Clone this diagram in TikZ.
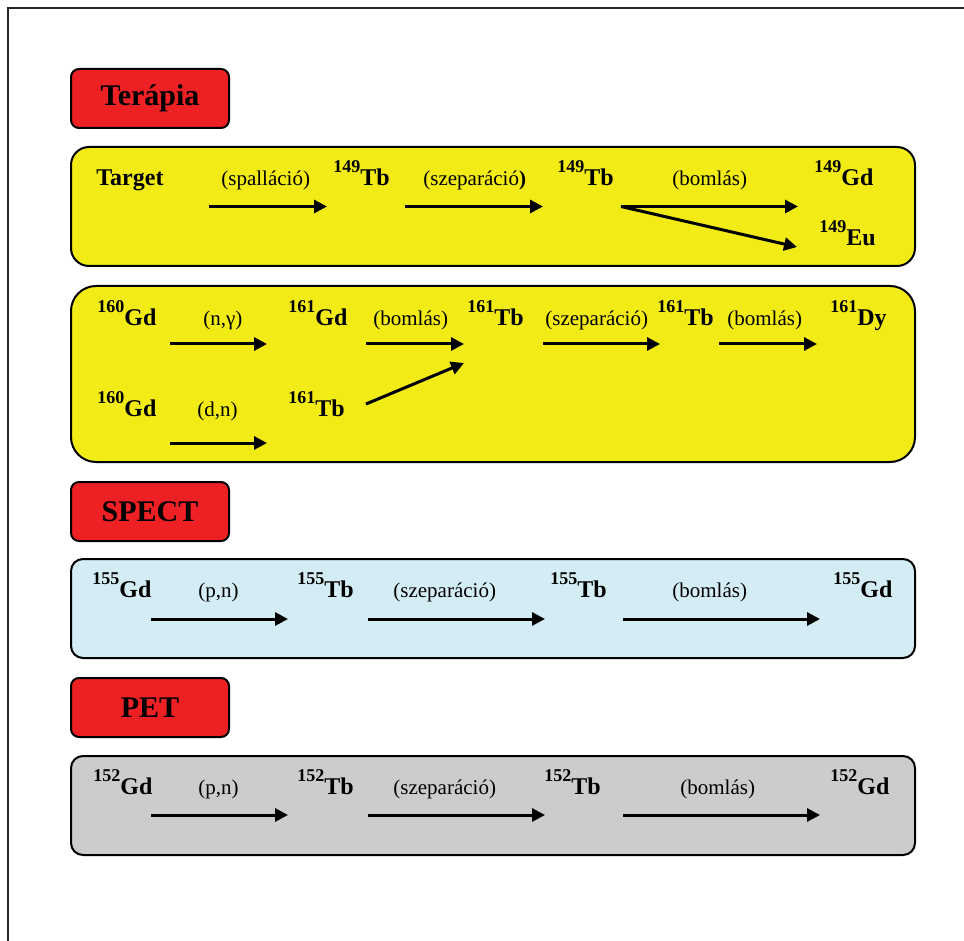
\documentclass[tikz,border=0pt]{standalone}
\usepackage{fontspec}
\setmainfont{Liberation Serif}
\usetikzlibrary{arrows.meta}
\definecolor{hdrred}{RGB}{237,32,36}
\definecolor{panelyellow}{RGB}{242,235,22}
\definecolor{panelblue}{RGB}{212,236,243}
\definecolor{panelgray}{RGB}{204,204,204}
\newcommand{\iso}[2]{\textbf{\raisebox{6.5pt}{\fontsize{9}{9}\selectfont #1}#2}}

\tikzset{
  hdr/.style={draw, line width=1pt, rounded corners=4pt, fill=hdrred,
    minimum width=79pt, minimum height=29.5pt, inner sep=0pt,
    font=\fontsize{15}{15}\selectfont\bfseries},
  panel/.style={draw, line width=1pt, minimum width=422pt, inner sep=0pt},
  nucl/.style={anchor=base west, inner sep=0pt, font=\fontsize{12}{12}\selectfont\bfseries},
  proc/.style={anchor=base west, inner sep=0pt, font=\fontsize{10.5}{10.5}\selectfont},
  reac/.style={line width=1.5pt, -{Triangle[length=6.5pt,width=6.5pt]}},
}

\begin{document}
\begin{tikzpicture}[x=0.5pt,y=-0.5pt]
  \useasboundingbox (0,0) rectangle (964,941);
  % frame
  \coordinate (fbot) at (8,941);
  \coordinate (ftl) at (8,8);
  \coordinate (ftr) at (964,8);
  \draw[line width=1pt, black!85] (fbot) -- (ftl) -- (ftr);

  % headers
  \node[hdr] (terapia) at (150,98.5) {Terápia};
  \node[hdr] (spect) at (150,511.5) {SPECT};
  \node[hdr] (pet) at (150,707.5) {PET};

  % panels
  \node[panel, fill=panelyellow, rounded corners=9pt, minimum height=59.5pt] (p1) at (493,206.5) {};
  \node[panel, fill=panelyellow, rounded corners=12.5pt, minimum height=88pt] (p2) at (493,374) {};
  \node[panel, fill=panelblue, rounded corners=6pt, minimum height=49.5pt] (p3) at (493,608.5) {};
  \node[panel, fill=panelgray, rounded corners=6pt, minimum height=49.5pt] (p4) at (493,805.5) {};

  % Tb-149
  \node[nucl] (target) at (96,186) {Target};
  \node[proc] (spall) at (221,186) {(spalláció)};
  \node[nucl] (tb149a) at (333,186) {\iso{149}{Tb}};
  \node[proc] (szep1) at (423,186) {(szeparáció\textbf{)}};
  \node[nucl] (tb149b) at (557,186) {\iso{149}{Tb}};
  \node[proc] (boml1) at (672,186) {(bomlás)};
  \node[nucl] (gd149) at (814,186) {\iso{149}{Gd}};
  \node[nucl] (eu149) at (819,246) {\iso{149}{Eu}};

  \coordinate (s1) at (209,206.5);
  \coordinate (e1) at (327,206.5);
  \coordinate (s2) at (405,206.5);
  \coordinate (e2) at (543,206.5);
  \coordinate (s3) at (621,206.5);
  \coordinate (e3) at (798,206.5);
  \coordinate (e4) at (797,247);
  \draw[reac] (s1) -- (e1);
  \draw[reac] (s2) -- (e2);
  \draw[reac] (s3) -- (e3);
  \draw[reac] (s3) -- (e4);

  % Tb-161
  \node[nucl] (gd160a) at (97,326) {\iso{160}{Gd}};
  \node[proc] (ngamma) at (203,326) {(n,γ)};
  \node[nucl] (gd161) at (288,326) {\iso{161}{Gd}};
  \node[proc] (boml2) at (373,326) {(bomlás)};
  \node[nucl] (tb161a) at (467,326) {\iso{161}{Tb}};
  \node[proc] (szep2) at (545,326) {(szeparáció)};
  \node[nucl] (tb161b) at (657,326) {\iso{161}{Tb}};
  \node[proc] (boml3) at (727,326) {(bomlás)};
  \node[nucl] (dy161) at (830,326) {\iso{161}{Dy}};
  \node[nucl] (gd160b) at (97,416) {\iso{160}{Gd}};
  \node[proc] (dn) at (197,416) {(d,n)};
  \node[nucl] (tb161c) at (288,416) {\iso{161}{Tb}};

  \coordinate (s5) at (170,344);
  \coordinate (e5) at (267,344);
  \coordinate (s6) at (366,344);
  \coordinate (e6) at (464,344);
  \coordinate (s7) at (543,344);
  \coordinate (e7) at (660,344);
  \coordinate (s8) at (719,344);
  \coordinate (e8) at (817,344);
  \coordinate (s9) at (170,443);
  \coordinate (e9) at (267,443);
  \coordinate (s10) at (366,404);
  \coordinate (e10) at (464,363);
  \draw[reac] (s5) -- (e5);
  \draw[reac] (s6) -- (e6);
  \draw[reac] (s7) -- (e7);
  \draw[reac] (s8) -- (e8);
  \draw[reac] (s9) -- (e9);
  \draw[reac] (s10) -- (e10);

  % Tb-155
  \node[nucl] (gd155a) at (92,597) {\iso{155}{Gd}};
  \node[proc] (pn1) at (198,597) {(p,n)};
  \node[nucl] (tb155a) at (297,597) {\iso{155}{Tb}};
  \node[proc] (szep3) at (393,597) {(szeparáció)};
  \node[nucl] (tb155b) at (550,597) {\iso{155}{Tb}};
  \node[proc] (boml4) at (672,597) {(bomlás)};
  \node[nucl] (gd155b) at (833,597) {\iso{155}{Gd}};

  \coordinate (s11) at (151,619);
  \coordinate (e11) at (288,619);
  \coordinate (s12) at (368,619);
  \coordinate (e12) at (545,619);
  \coordinate (s13) at (623,619);
  \coordinate (e13) at (820,619);
  \draw[reac] (s11) -- (e11);
  \draw[reac] (s12) -- (e12);
  \draw[reac] (s13) -- (e13);

  % Tb-152
  \node[nucl] (gd152a) at (93,794) {\iso{152}{Gd}};
  \node[proc] (pn2) at (198,794) {(p,n)};
  \node[nucl] (tb152a) at (297,794) {\iso{152}{Tb}};
  \node[proc] (szep4) at (393,794) {(szeparáció)};
  \node[nucl] (tb152b) at (544,794) {\iso{152}{Tb}};
  \node[proc] (boml5) at (680,794) {(bomlás)};
  \node[nucl] (gd152b) at (830,794) {\iso{152}{Gd}};

  \coordinate (s14) at (151,815);
  \coordinate (e14) at (288,815);
  \coordinate (s15) at (368,815);
  \coordinate (e15) at (545,815);
  \coordinate (s16) at (623,815);
  \coordinate (e16) at (820,815);
  \draw[reac] (s14) -- (e14);
  \draw[reac] (s15) -- (e15);
  \draw[reac] (s16) -- (e16);
\end{tikzpicture}
\end{document}
